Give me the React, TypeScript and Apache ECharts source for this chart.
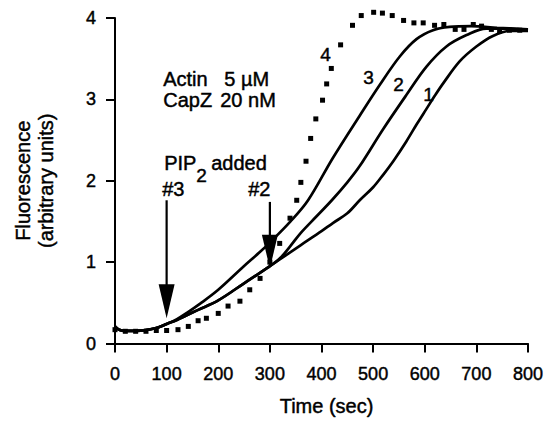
import React, { useEffect, useRef } from "react";
import * as echarts from "echarts";

// Time ticks (sec) and fluorescence ticks
const xTicks = [0, 100, 200, 300, 400, 500, 600, 700, 800];
const yTicks = [0, 1, 2, 3, 4];

// Shared early part of curves 1 and 2 (before PIP2 #2)
const sharedEarly: [number, number][] = [
  [0, 0.21], [8, 0.17], [20, 0.155], [40, 0.155], [60, 0.165], [80, 0.19],
  [100, 0.24], [120, 0.29], [140, 0.35], [160, 0.41], [200, 0.53], [250, 0.74], [300, 0.95],
];

// Curve 1: no PIP2
const curve1Late: [number, number][] = [
  [330, 1.08], [360, 1.21], [400, 1.38], [422, 1.48], [450, 1.6], [474, 1.76],
  [500, 1.92], [519, 2.07], [540, 2.25], [564, 2.48], [585, 2.7], [603, 2.88],
  [620, 3.05], [636, 3.2], [668, 3.47], [700, 3.65], [732, 3.78], [765, 3.84], [800, 3.84],
];

// Curve 2: PIP2 added at 300 s
const curve2Late: [number, number][] = [
  [320, 1.05], [340, 1.2], [360, 1.36], [390, 1.56], [420, 1.76], [450, 1.98],
  [474, 2.18], [519, 2.63], [564, 3.05], [603, 3.4], [642, 3.65], [681, 3.79],
  [719, 3.87], [758, 3.87], [800, 3.85],
];

// Curve 3: PIP2 added at 100 s
const curve3: [number, number][] = [
  [0, 0.21], [8, 0.17], [20, 0.155], [40, 0.155], [60, 0.165], [80, 0.19],
  [100, 0.24], [120, 0.3], [140, 0.38], [165, 0.49], [200, 0.66], [248, 0.94],
  [280, 1.12], [300, 1.24], [340, 1.5], [374, 1.76], [422, 2.28], [474, 2.8],
  [513, 3.18], [552, 3.53], [584, 3.74], [616, 3.85], [648, 3.89], [690, 3.9],
  [740, 3.88], [800, 3.86],
];

// Curve 4: dotted
const curve4: [number, number][] = [
  [0, 0.17], [20, 0.15], [40, 0.15], [60, 0.15], [80, 0.16], [100, 0.16],
  [122, 0.17], [142, 0.21], [161, 0.28], [177, 0.31], [200, 0.37], [219, 0.46],
  [242, 0.52], [261, 0.66], [281, 0.8], [300, 1.0], [319, 1.23], [339, 1.54],
  [352, 1.76], [360, 1.98], [370, 2.24], [379, 2.52], [389, 2.76], [402, 2.99],
  [410, 3.19], [419, 3.38], [437, 3.67], [460, 3.91], [477, 4.03], [501, 4.07],
  [518, 4.06], [537, 4.03], [559, 3.97], [579, 3.94], [597, 3.94], [619, 3.91],
  [637, 3.92], [659, 3.86], [676, 3.86], [694, 3.92], [710, 3.9], [729, 3.86],
  [745, 3.84], [764, 3.85], [784, 3.85],
];

// PIP2 addition arrows: [time, yStart, yTip]
const arrows: [number, number, number][] = [
  [100, 1.76, 0.31],
  [300, 1.74, 0.92],
];

const curve1 = [...sharedEarly, ...curve1Late];
const curve2 = [...sharedEarly, ...curve2Late];

const FONT = "'Liberation Sans', Arial, Helvetica, sans-serif";
const HEAVY = { textBorderColor: "#000", textBorderWidth: 0.45 };

export default function App() {
  const ref = useRef<HTMLDivElement>(null);

  useEffect(() => {
    if (!ref.current) return;
    const chart = echarts.init(ref.current, undefined, { renderer: "svg" });

    const solid = (data: [number, number][], name: string) => ({
      type: "line",
      name,
      data,
      smooth: 0.35,
      showSymbol: false,
      symbol: "none",
      lineStyle: { color: "#000", width: 2.7 },
      z: 3,
    });

    const txt = (text: string, left: number, top: number, size = 20) => ({
      type: "text",
      left,
      top,
      style: {
        text,
        font: `${size}px ${FONT}`,
        fill: "#000",
        stroke: "#000",
        lineWidth: 0.45,
      },
      z: 10,
    });

    chart.setOption({
      animation: false,
      backgroundColor: "#fff",
      grid: { left: 115, right: 20, top: 18, bottom: 87.5 },
      xAxis: {
        type: "value",
        min: xTicks[0],
        max: xTicks[xTicks.length - 1],
        interval: 100,
        name: "Time (sec)",
        nameLocation: "middle",
        nameGap: 52,
        nameTextStyle: { fontSize: 20, fontFamily: FONT, color: "#000", padding: [0, 0, 0, 10], ...HEAVY },
        axisLine: { lineStyle: { color: "#000", width: 2 } },
        axisTick: { length: 9, lineStyle: { color: "#000", width: 2 } },
        axisLabel: { fontSize: 18, fontFamily: FONT, color: "#000", margin: 21, ...HEAVY },
        splitLine: { show: false },
      },
      yAxis: {
        type: "value",
        min: yTicks[0],
        max: yTicks[yTicks.length - 1],
        interval: 1,
        name: "Fluorescence\n(arbitrary units)",
        nameLocation: "middle",
        nameGap: 58,
        nameTextStyle: { fontSize: 20, fontFamily: FONT, color: "#000", lineHeight: 23, ...HEAVY },
        axisLine: { show: true, lineStyle: { color: "#000", width: 2 } },
        axisTick: { show: true, length: 9, lineStyle: { color: "#000", width: 2 } },
        axisLabel: { fontSize: 18, fontFamily: FONT, color: "#000", margin: 19, ...HEAVY },
        splitLine: { show: false },
      },
      series: [
        solid(curve1, "1"),
        solid(curve2, "2"),
        solid(curve3, "3"),
        {
          type: "scatter",
          name: "4",
          data: curve4,
          symbol: "rect",
          symbolSize: 5,
          itemStyle: { color: "#000", opacity: 1 },
          clip: false,
          z: 2,
        },
        {
          type: "custom",
          name: "arrows",
          data: arrows,
          clip: false,
          z: 5,
          renderItem: (params: any, api: any) => {
            const x = api.value(0);
            const p0 = api.coord([x, api.value(1)]);
            const p1 = api.coord([x, api.value(2)]);
            const headLen = 34;
            const headHalf = 8;
            return {
              type: "group",
              children: [
                {
                  type: "line",
                  shape: { x1: p0[0], y1: p0[1], x2: p1[0], y2: p1[1] - headLen + 2 },
                  style: { stroke: "#000", lineWidth: 2.2 },
                },
                {
                  type: "polygon",
                  shape: {
                    points: [
                      [p1[0] - headHalf, p1[1] - headLen],
                      [p1[0] + headHalf, p1[1] - headLen],
                      [p1[0], p1[1]],
                    ],
                  },
                  style: { fill: "#000" },
                },
              ],
            };
          },
        },
      ],
      graphic: [
        txt("Actin", 163, 69),
        txt("5 µM", 224, 69),
        txt("CapZ", 163, 90),
        txt("20 nM", 220, 90),
        txt("PIP", 164, 153),
        txt("2", 196, 166, 19),
        txt("added", 211, 153),
        txt("#3", 162, 179),
        txt("#2", 248, 179),
        txt("4", 320, 45, 19),
        txt("3", 363, 68, 19),
        txt("2", 393, 75, 19),
        txt("1", 423, 85, 19),
      ],
    });

    return () => chart.dispose();
  }, []);

  return (
    <div
      ref={ref}
      style={{ position: "fixed", left: 0, top: 0, width: 548, height: 431, background: "#fff" }}
    />
  );
}
